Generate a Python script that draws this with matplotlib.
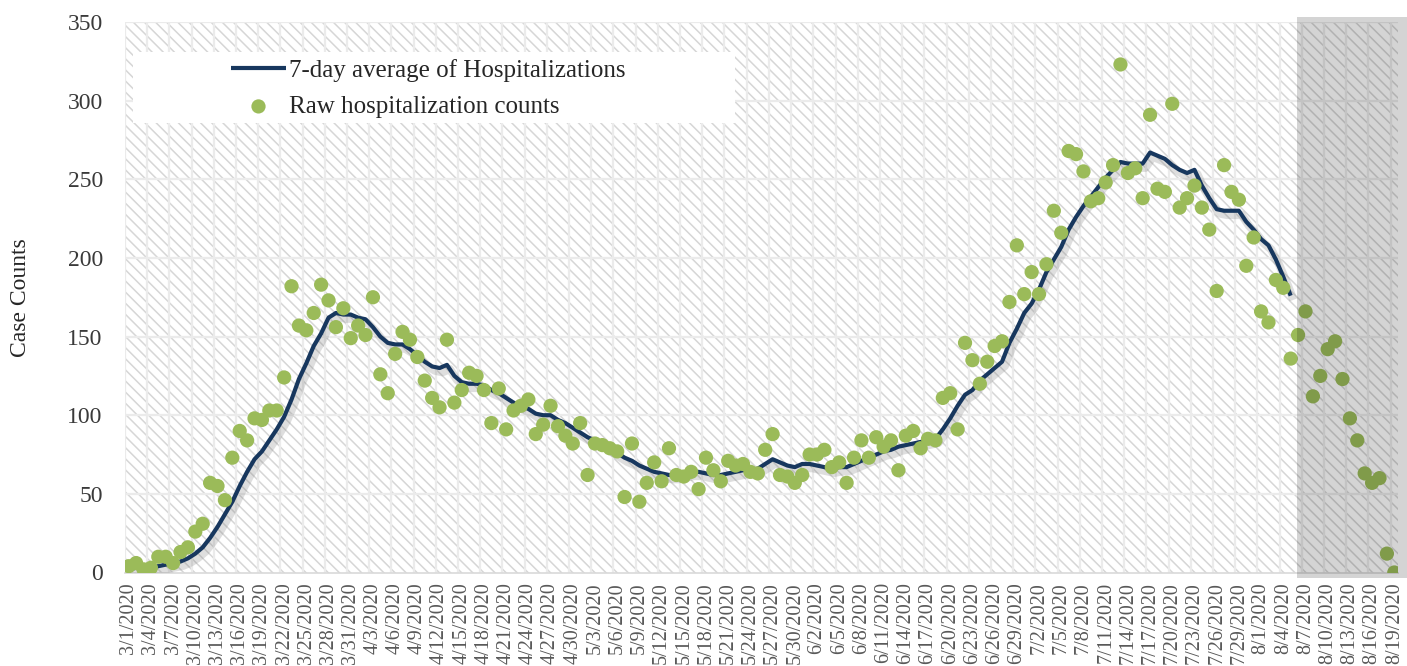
import matplotlib
matplotlib.use("Agg")
import matplotlib.pyplot as plt
import matplotlib.patheffects as pe
from matplotlib.patches import Rectangle
import pandas as pd
import numpy as np

# ---------------- data ----------------
start_date = "2020-03-01"
end_date = "2020-08-19"

raw_counts = [4, 6, 2, 3, 10, 10, 6, 13, 16, 26,
              31, 57, 55, 46, 73, 90, 84, 98, 97, 103,
              103, 124, 182, 157, 154, 165, 183, 173, 156, 168,
              149, 157, 151, 175, 126, 114, 139, 153, 148, 137,
              122, 111, 105, 148, 108, 116, 127, 125, 116, 95,
              117, 91, 103, 106, 110, 88, 94, 106, 93, 87,
              82, 95, 62, 82, 81, 79, 77, 48, 82, 45,
              57, 70, 58, 79, 62, 61, 64, 53, 73, 65,
              58, 71, 68, 69, 64, 63, 78, 88, 62, 61,
              57, 62, 75, 75, 78, 67, 70, 57, 73, 84,
              73, 86, 80, 84, 65, 87, 90, 79, 85, 84,
              111, 114, 91, 146, 135, 120, 134, 144, 147, 172,
              208, 177, 191, 177, 196, 230, 216, 268, 266, 255,
              236, 238, 248, 259, 323, 254, 257, 238, 291, 244,
              242, 298, 232, 238, 246, 232, 218, 179, 259, 242,
              237, 195, 213, 166, 159, 186, 181, 136, 151, 166,
              112, 125, 142, 147, 123, 98, 84, 63, 57, 60,
              12, 0]

avg_7day = [2, 3, 3, 4, 4, 5, 6, 7, 9, 12,
            16, 22, 29, 37, 45, 55, 64, 72, 77, 84,
            91, 99, 110, 123, 133, 144, 152, 162, 165, 164,
            164, 162, 161, 156, 150, 146, 145, 145, 142, 138,
            134, 131, 130, 132, 125, 121, 120, 120, 119, 116,
            114, 111, 108, 106, 104, 101, 100, 100, 97, 95,
            92, 89, 86, 84, 82, 79, 76, 73, 71, 68,
            66, 64, 63, 62, 62, 63, 64, 64, 63, 62,
            62, 63, 64, 65, 65, 66, 69, 72, 70, 68,
            67, 69, 69, 68, 67, 66, 67, 67, 69, 71,
            73, 75, 77, 78, 80, 81, 82, 83, 84, 85,
            91, 98, 106, 113, 116, 122, 126, 130, 134, 146,
            155, 165, 171, 180, 191, 199, 207, 218, 226, 233,
            239, 245, 251, 256, 261, 260, 260, 260, 267, 265,
            263, 259, 256, 254, 256, 246, 238, 231, 230, 230,
            230, 223, 218, 212, 208, 199, 188, 176]

y_ticks = [0, 50, 100, 150, 200, 250, 300, 350]
shade_start_date = "2020-08-06"

dates = pd.date_range(start_date, end_date, freq="D")
date_labels = [f"{d.month}/{d.day}/{d.year}" for d in dates]
x_raw = np.arange(len(raw_counts))
x_avg = np.arange(len(avg_7day))
shade_start = int(np.where(dates == pd.Timestamp(shade_start_date))[0][0])

# ---------------- figure ----------------
W, H = 1407, 666
plt.rcParams["hatch.color"] = "#d6d6d6"
plt.rcParams["hatch.linewidth"] = 1.1
fig = plt.figure(figsize=(W / 100, H / 100), dpi=100)
ax = fig.add_axes([125 / W, 1 - 572.5 / H, (1398 - 125) / W, (572.5 - 22) / H])
serif = ["Liberation Serif", "DejaVu Serif"]

ax.set_facecolor("white")
bg = Rectangle((0, 0), 1, 1, transform=ax.transAxes, facecolor="white",
               edgecolor="#d6d6d6", hatch="\\\\\\", linewidth=0, zorder=0)
ax.add_patch(bg)

ax.set_xlim(-0.5, len(raw_counts) - 0.5)
ax.set_ylim(0, 350)

# grid
ax.set_yticks(y_ticks)
ax.set_xticks(np.arange(0, len(raw_counts), 3))
ax.set_xticklabels(date_labels[::3])
ax.grid(False)
for yv in y_ticks[1:]:
    ax.axhline(yv, color="#ebebeb", lw=1.6, zorder=1)
for xv in np.arange(-0.5, len(raw_counts), 3):
    ax.axvline(xv, color="#ebebeb", lw=1.6, zorder=1)

# line with shadow
ax.plot(x_avg, avg_7day, color="#17375E", lw=3.0, zorder=3,
        solid_capstyle="butt",
        path_effects=[pe.SimpleLineShadow(offset=(2, -3), shadow_color="#7f7f7f",
                                          alpha=0.25, linewidth=6),
                      pe.Normal()],
        label="7-day average of Hospitalizations")
ax.scatter(x_raw, raw_counts, s=105, color="#9BBB59", edgecolors="none", zorder=4,
           label="Raw hospitalization counts")

# shaded forecast region
shade = Rectangle((shade_start - 0.1, -3.5), len(raw_counts) + 1 - shade_start, 356.5,
                  facecolor="#000000", alpha=0.17, edgecolor="none",
                  zorder=5, clip_on=False)
ax.add_patch(shade)

# spines / ticks
for s in ["top", "right", "left"]:
    ax.spines[s].set_visible(False)
ax.spines["bottom"].set_color("#d9d9d9")
ax.spines["bottom"].set_linewidth(1.2)
ax.spines["bottom"].set_zorder(2)
ax.tick_params(axis="both", which="both", length=0)
ax.tick_params(axis="y", pad=16, labelsize=17, labelcolor="#3a3a3a")
ax.tick_params(axis="x", pad=7, labelsize=14.5, labelcolor="#595959", rotation=90)
for lab in ax.get_yticklabels() + ax.get_xticklabels():
    lab.set_fontfamily(serif)

ax.set_ylabel("Case Counts", fontsize=17, color="#262626", family=serif, labelpad=26)

# legend box
legbox = Rectangle((133 / W, 1 - 123 / H), (735 - 133) / W, (123 - 52) / H,
                   transform=fig.transFigure, facecolor="white", edgecolor="none",
                   zorder=6)
fig.patches.append(legbox)
leg = fig.legend(loc="upper left", bbox_to_anchor=(216 / W, 1 - 44 / H),
                 frameon=False, prop={"family": serif, "size": 18},
                 handlelength=2.2, handletextpad=0.12, labelspacing=0.54,
                 borderpad=0.1, labelcolor="#262626", markerscale=1.0)
leg.set_zorder(7)
for h in leg.legend_handles:
    try:
        h.set_path_effects([])
    except Exception:
        pass

fig.savefig("out.png", dpi=100)
